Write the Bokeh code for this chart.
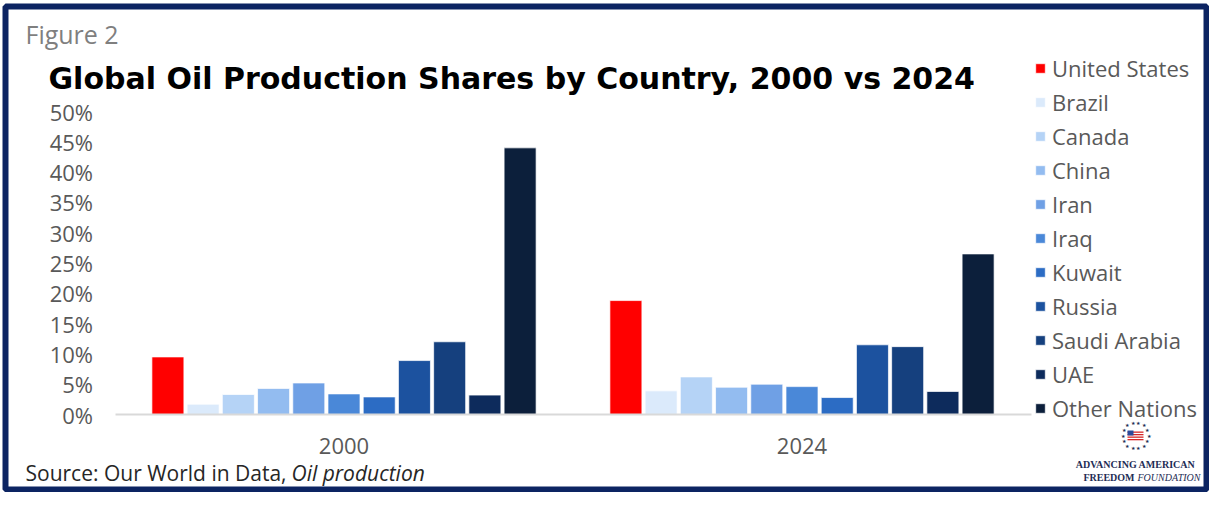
import math
from bokeh.plotting import figure
from bokeh.models import (ColumnDataSource, Range1d, Label, Legend, LegendItem, LinearAxis,
                          BoxAnnotation, PrintfTickFormatter, FixedTicker)
from bokeh.transform import dodge
from bokeh.embed import file_html
from bokeh.resources import INLINE

# ---------------- data ----------------
years = ["2000", "2024"]
countries = ["United States", "Brazil", "Canada", "China", "Iran", "Iraq", "Kuwait",
             "Russia", "Saudi Arabia", "UAE", "Other Nations"]
share_2000 = [9.5, 1.7, 3.3, 4.3, 5.2, 3.4, 2.9, 8.9, 12.0, 3.2, 44.0]
share_2024 = [18.8, 3.9, 6.2, 4.5, 5.0, 4.6, 2.8, 11.5, 11.2, 3.8, 26.5]
colors = ["#ff0000", "#dbeafb", "#b5d3f6", "#93bcf0", "#6fa0e5", "#4a88d8",
          "#2c6cc4", "#1c529f", "#15407e", "#0d2b5c", "#0c1f3b"]
y_ticks = [0, 5, 10, 15, 20, 25, 30, 35, 40, 45, 50]

# ---------------- layout (pixels) ----------------
W, H = 1209, 492
PX0 = 114.5          # left edge of plotting area
CAT = 458.0          # width of one year category
PY0, PY50 = 414.0, 111.0
UNIT = (PY0 - PY50) / 50.0
NAVY = "#0c2462"
GREY = "#595959"
FONT = "Open Sans"

xpos = [i + 1 for i in range(len(years))]
data = {"year": years, "xc": xpos}
for i, c in enumerate(countries):
    data[c] = [share_2000[i], share_2024[i]]
src = ColumnDataSource(data)

x0 = 0.5 - PX0 / CAT
p = figure(width=W, height=H,
           x_range=Range1d(x0, x0 + W / CAT),
           y_range=Range1d(-(H - PY0) / UNIT, PY0 / UNIT),
           x_axis_type=None, y_axis_type=None,
           output_backend="svg", toolbar_location=None, title=None,
           min_border=0, min_border_left=0, min_border_right=0,
           min_border_top=0, min_border_bottom=0)

n = len(countries)
pitch = 0.0769
bw = 0.0699
items = []
for i, c in enumerate(countries):
    r = p.vbar(x=dodge("xc", (i - (n - 1) / 2) * pitch), top=c, bottom=0, width=bw,
               source=src, fill_color=colors[i], line_color="white", line_width=1, line_alpha=0.7)
    items.append(LegendItem(label=c, renderers=[r]))

legend = Legend(items=items, location=(1034, H - 423), orientation="vertical",
                glyph_width=12, glyph_height=12, label_standoff=6, label_height=30, spacing=4,
                padding=0, margin=0, background_fill_alpha=0, border_line_alpha=0,
                label_text_font=FONT, label_text_font_size="22px", label_text_color=GREY)
p.add_layout(legend)

# axes (fixed in the plotting area)
yaxis = LinearAxis(fixed_location=0.5, ticker=FixedTicker(ticks=y_ticks),
                   formatter=PrintfTickFormatter(format="%d%%"),
                   axis_line_color=None, major_tick_line_color=None, minor_tick_line_color=None,
                   major_tick_out=0, major_tick_in=0, major_label_standoff=22,
                   major_label_text_font=FONT, major_label_text_font_size="22px",
                   major_label_text_color=GREY)
p.add_layout(yaxis, "left")

xaxis = LinearAxis(fixed_location=0, bounds=(0.5, len(years) + 0.5),
                   ticker=FixedTicker(ticks=xpos),
                   major_label_overrides={xv: y for xv, y in zip(xpos, years)},
                   axis_line_color="#d9d9d9", axis_line_width=2,
                   major_tick_line_color=None, minor_tick_line_color=None,
                   major_tick_out=0, major_tick_in=0, major_label_standoff=23,
                   major_label_text_font=FONT, major_label_text_font_size="22px",
                   major_label_text_color=GREY)
p.add_layout(xaxis, "below")

p.outline_line_color = None
p.background_fill_color = "white"
p.border_fill_color = "white"


def lab(text, X, Y, size, color="#000000", style="normal", font=FONT, align="left"):
    p.add_layout(Label(text=text, x=X, y=H - Y, x_units="screen", y_units="screen",
                       text_font=font, text_font_size=size, text_color=color,
                       text_font_style=style, text_align=align, text_baseline="middle"))


lab("Figure 2", 25, 33, "25px", color="#7f7f7f")
lab("Global Oil Production Shares by Country, 2000 vs 2024", 48, 78, "30px", style="bold",
    font="DejaVu Sans")
lab("Source: Our World in Data, ", 25, 472, "21px", color="#262626")
lab("Oil production", 291, 472, "21px", color="#262626", style="italic")

# logo
LOGO = "#1e2d55"
cx, cy, rr = 1135, 435, 13
lab("ADVANCING AMERICAN", cx, 464, "10px", color=LOGO, style="bold",
    font="Liberation Serif", align="center")
lab("FREEDOM", cx - 1, 477, "10px", color=LOGO, style="bold", font="Liberation Serif",
    align="right")
lab("FOUNDATION", cx + 2, 477, "10px", color=LOGO, style="italic", font="Liberation Serif")
for k in range(14):
    a = 2 * math.pi * k / 14
    lab("\u2605", cx + rr * math.cos(a), cy + rr * math.sin(a), "5px", color=LOGO, align="center")


def sbox(l, r, t, b, **kw):
    p.add_layout(BoxAnnotation(left=l, right=r, top=H - t, bottom=H - b,
                               left_units="screen", right_units="screen",
                               top_units="screen", bottom_units="screen", **kw))


for k in range(4):
    sbox(cx - 8, cx + 8, cy - 4 + 2.5 * k, cy - 4 + 2.5 * k + 1.3,
         fill_color="#d62728", fill_alpha=1, line_color=None)
sbox(cx - 8, cx - 2, cy - 5, cy, fill_color="#2b4a9b", fill_alpha=1, line_color=None)

# frame border
sbox(5, W - 3, 6, H - 3, fill_alpha=0, fill_color=None, line_color=NAVY, line_alpha=1,
     line_width=6)

open("out.html", "w").write(file_html(p, INLINE))
